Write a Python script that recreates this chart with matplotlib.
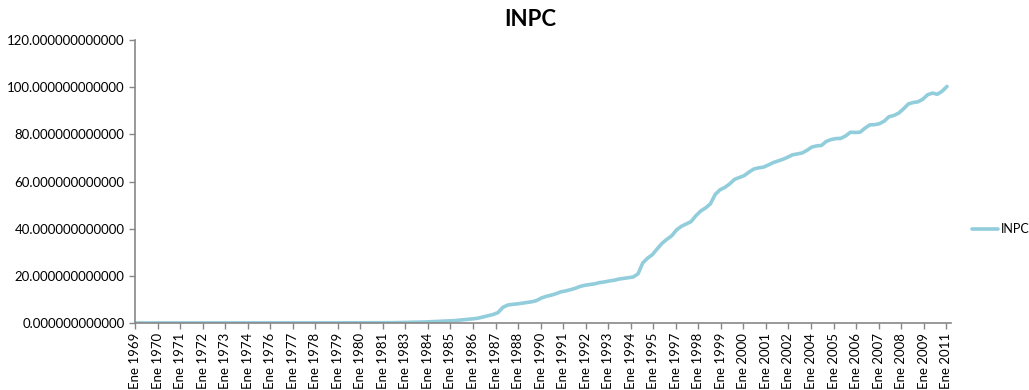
import matplotlib
matplotlib.use('Agg')
import matplotlib.pyplot as plt

# INPC, quarterly readings (Ene, Abr, Jul, Oct) from Ene 1969 to Ene 2011
inpc = [
    0.016, 0.016, 0.016, 0.016,    # 1969
    0.016, 0.017, 0.017, 0.017,    # 1970
    0.017, 0.017, 0.018, 0.018,    # 1971
    0.018, 0.018, 0.018, 0.019,    # 1972
    0.019, 0.020, 0.021, 0.022,    # 1973
    0.024, 0.025, 0.026, 0.027,    # 1974
    0.028, 0.029, 0.029, 0.030,    # 1975
    0.031, 0.032, 0.033, 0.036,    # 1976
    0.040, 0.042, 0.044, 0.046,    # 1977
    0.047, 0.049, 0.051, 0.053,    # 1978
    0.055, 0.058, 0.060, 0.063,    # 1979
    0.067, 0.072, 0.077, 0.081,    # 1980
    0.087, 0.092, 0.097, 0.103,    # 1981
    0.11, 0.13, 0.16, 0.20,        # 1982
    0.25, 0.30, 0.34, 0.38,        # 1983
    0.45, 0.55, 0.62, 0.72,        # 1984
    0.80, 0.90, 1.00, 1.20,        # 1985
    1.40, 1.60, 1.80, 2.10,        # 1986
    2.60, 3.10, 3.60, 4.40,        # 1987
    6.60, 7.60, 7.90, 8.10,        # 1988
    8.40, 8.70, 9.00, 9.50,        # 1989
    10.6, 11.3, 11.8, 12.4,        # 1990
    13.2, 13.6, 14.1, 14.7,        # 1991
    15.5, 16.0, 16.3, 16.6,        # 1992
    17.1, 17.4, 17.8, 18.1,        # 1993
    18.6, 18.9, 19.2, 19.5,        # 1994
    20.8, 25.5, 27.5, 29.0,        # 1995
    31.5, 33.8, 35.5, 37.0,        # 1996
    39.5, 41.0, 42.0, 43.0,        # 1997
    45.5, 47.5, 48.8, 50.5,        # 1998
    54.5, 56.5, 57.5, 59.0,        # 1999
    60.9, 61.7, 62.5, 64.0,        # 2000
    65.3, 65.8, 66.1, 67.0,        # 2001
    68.0, 68.7, 69.4, 70.3,        # 2002
    71.3, 71.7, 72.1, 73.2,        # 2003
    74.6, 75.1, 75.3, 77.0,        # 2004
    77.8, 78.2, 78.3, 79.3,        # 2005
    80.9, 80.8, 80.9, 82.6,        # 2006
    84.0, 84.1, 84.5, 85.6,        # 2007
    87.5, 88.0, 89.0, 90.8,        # 2008
    92.9, 93.5, 93.8, 94.9,        # 2009
    96.8, 97.5, 97.0, 98.3,        # 2010
    100.3,                         # 2011
]

# category axis: one category per month, Ene 1969 .. Mar 2011
n_months = 507
label_step = 14
start_year = 1969

months = [3 * i for i in range(len(inpc))]
tick_pos = list(range(0, n_months, label_step))
tick_labels = ['Ene %d' % (start_year + p // 12) for p in tick_pos]

plt.rcParams['font.family'] = ['Lato', 'DejaVu Sans']

fig = plt.figure(figsize=(10.29, 3.9), dpi=100)
ax = fig.add_axes([0.1312, 0.1718, 0.793, 0.7256])

ax.plot(months, inpc, color='#92CDDC', linewidth=2.6, label='INPC',
        solid_joinstyle='round', solid_capstyle='round')

ax.set_xlim(-0.5, n_months - 0.5)
ax.set_ylim(0, 120)
ax.set_yticks(range(0, 121, 20))
ax.set_yticklabels(['%.12f' % v for v in range(0, 121, 20)], fontsize=9.5)
ax.set_xticks([p - 0.5 for p in tick_pos])
ax.set_xticklabels(tick_labels, rotation=90, fontsize=9.5)

for side in ['top', 'right']:
    ax.spines[side].set_visible(False)
for side in ['left', 'bottom']:
    ax.spines[side].set_color('#878787')
    ax.spines[side].set_linewidth(1.2)
ax.tick_params(axis='both', colors='#878787', length=4, width=1, labelcolor='black')
ax.tick_params(axis='x', pad=3)

fig.text(0.515, 0.95, 'INPC', ha='center', va='center', fontsize=16, fontweight='bold')

fig.legend(loc='center left', bbox_to_anchor=(0.942, 0.413), frameon=False,
           fontsize=9, handlelength=2.1, handletextpad=0.25, borderaxespad=0,
           borderpad=0.2)

fig.savefig('out.png', dpi=100)
